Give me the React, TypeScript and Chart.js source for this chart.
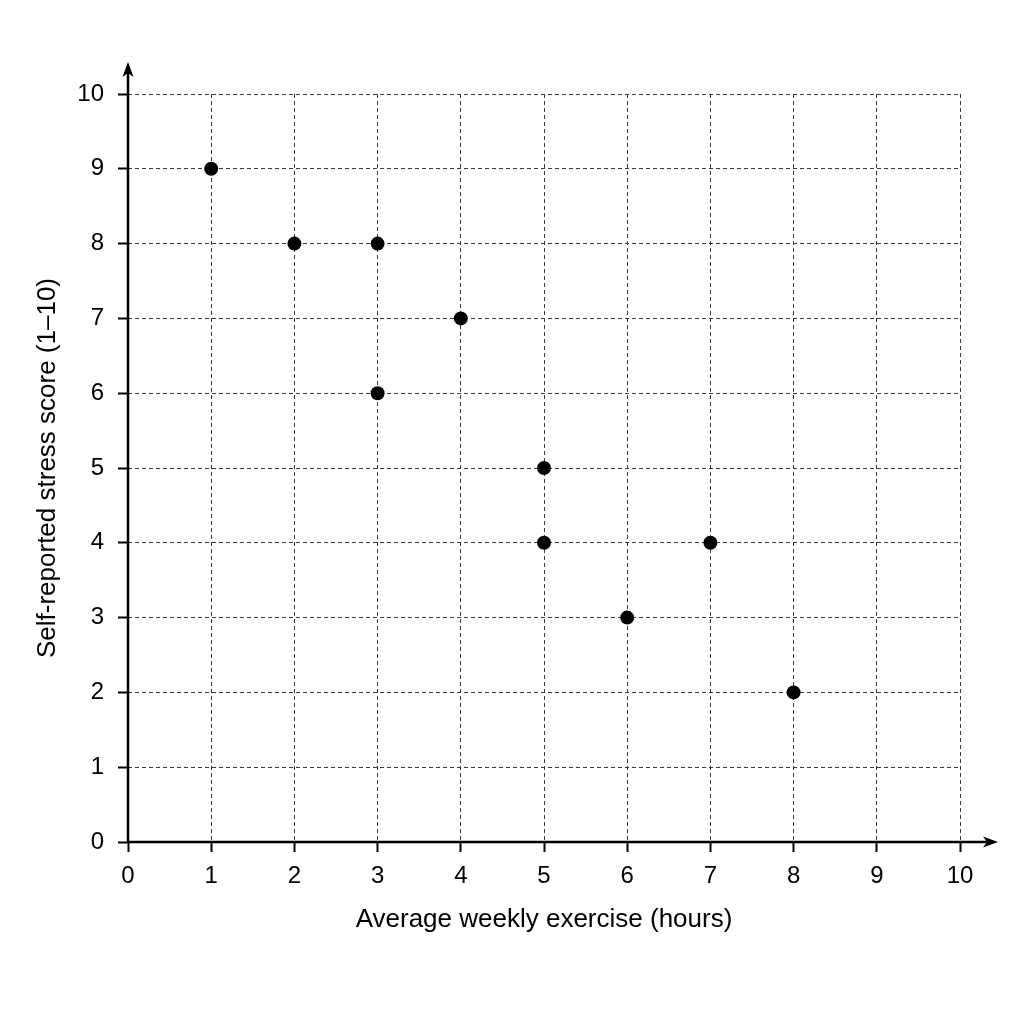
import React, { useEffect, useRef } from "react";
import { Chart, registerables } from "chart.js";

Chart.register(...registerables);

const exerciseHours = [1, 2, 3, 4, 3, 5, 5, 7, 6, 8];
const stressScores = [9, 8, 8, 7, 6, 5, 4, 4, 3, 2];
const xTitle = "Average weekly exercise (hours)";
const yTitle = "Self-reported stress score (1\u201310)";
const axisMin = 0;
const axisMax = 10;

const FONT = "Arial, 'Liberation Sans', Helvetica, sans-serif";

const axisArrows = {
  id: "axisArrows",
  afterDraw(chart: any) {
    const { ctx, chartArea, scales } = chart;
    const x0 = scales.x.getPixelForValue(axisMin);
    const y0 = scales.y.getPixelForValue(axisMin);
    const xEnd = chartArea.right + 38;
    const yEnd = chartArea.top - 32;
    ctx.save();
    ctx.strokeStyle = "#000";
    ctx.fillStyle = "#000";
    ctx.lineWidth = 2.5;
    ctx.setLineDash([]);
    ctx.beginPath();
    ctx.moveTo(x0, y0 + 1);
    ctx.lineTo(x0, yEnd + 8);
    ctx.moveTo(x0 - 1, y0);
    ctx.lineTo(xEnd - 8, y0);
    ctx.stroke();
    // y arrow head
    ctx.beginPath();
    ctx.moveTo(x0, yEnd);
    ctx.lineTo(x0 + 5.5, yEnd + 15);
    ctx.lineTo(x0, yEnd + 11);
    ctx.lineTo(x0 - 5.5, yEnd + 15);
    ctx.closePath();
    ctx.fill();
    // x arrow head
    ctx.beginPath();
    ctx.moveTo(xEnd, y0);
    ctx.lineTo(xEnd - 15, y0 - 5.5);
    ctx.lineTo(xEnd - 11, y0);
    ctx.lineTo(xEnd - 15, y0 + 5.5);
    ctx.closePath();
    ctx.fill();
    ctx.restore();
  },
};

export default function App() {
  const canvasRef = useRef<HTMLCanvasElement | null>(null);

  useEffect(() => {
    if (!canvasRef.current) return;
    const points = exerciseHours.map((x, i) => ({ x, y: stressScores[i] }));
    const gridCommon = {
      color: "#3a3a3a",
      lineWidth: 1,
      drawTicks: true,
      tickLength: 10,
      tickColor: "#000",
      tickWidth: 2,
      tickBorderDash: [],
    };
    const chart = new Chart(canvasRef.current, {
      type: "scatter",
      data: {
        datasets: [
          {
            data: points,
            backgroundColor: "#000",
            borderColor: "#000",
            borderWidth: 0,
            pointRadius: 7,
            pointHoverRadius: 7,
          },
        ],
      },
      options: {
        animation: false,
        responsive: false,
        devicePixelRatio: 1,
        layout: { padding: { top: 94, right: 64, left: 0, bottom: 0 } },
        plugins: { legend: { display: false }, tooltip: { enabled: false } },
        scales: {
          x: {
            type: "linear",
            min: axisMin,
            max: axisMax,
            afterFit: (scale: any) => {
              scale.height = 182;
            },
            ticks: {
              stepSize: 1,
              padding: 10,
              color: "#000",
              font: { family: FONT, size: 24 },
            },
            grid: gridCommon,
            border: { display: false, dash: [4, 3] },
            title: {
              display: true,
              text: xTitle,
              color: "#000",
              font: { family: FONT, size: 26 },
              padding: { top: 0, bottom: 89 },
            },
          },
          y: {
            type: "linear",
            min: axisMin,
            max: axisMax,
            afterFit: (scale: any) => {
              scale.width = 128;
            },
            ticks: {
              stepSize: 1,
              padding: 14,
              color: "#000",
              font: { family: FONT, size: 24 },
            },
            grid: gridCommon,
            border: { display: false, dash: [4, 3] },
            title: {
              display: true,
              text: yTitle,
              color: "#000",
              font: { family: FONT, size: 26 },
              padding: { top: 32.5, bottom: 0 },
            },
          },
        },
      },
      plugins: [axisArrows],
    });
    return () => chart.destroy();
  }, []);

  return (
    <div style={{ position: "fixed", left: 0, top: 0, width: 1024, height: 1024, background: "#fff" }}>
      <canvas ref={canvasRef} width={1024} height={1024} style={{ display: "block" }} />
    </div>
  );
}
